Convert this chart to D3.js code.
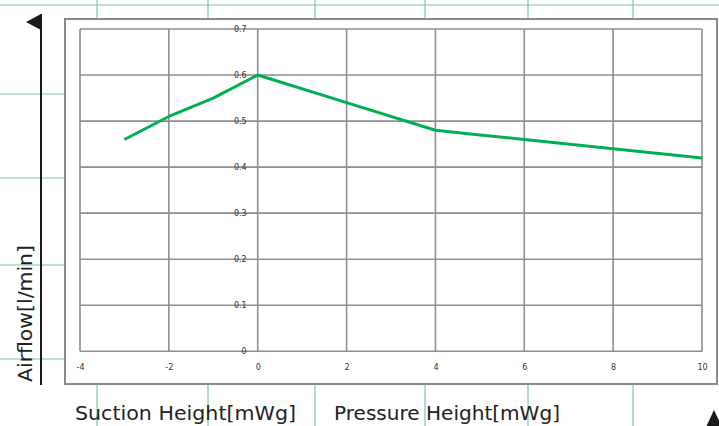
<!DOCTYPE html>
<html>
<head>
<meta charset="utf-8">
<script src="https://cdn.jsdelivr.net/npm/d3@7"></script>
<style>
  html, body { margin: 0; padding: 0; background: #fff; }
  svg { display: block; }
</style>
</head>
<body>
<svg id="chart" width="719" height="426"></svg>
<script>
// ---- data ----
const xValues = [-3, -2, -1, 0, 2, 4, 5, 6, 8, 10];
const airflow = [0.46, 0.51, 0.55, 0.60, 0.54, 0.48, 0.47, 0.46, 0.44, 0.42];
const xTicks = [-4, -2, 0, 2, 4, 6, 8, 10];
const yTicks = [0, 0.1, 0.2, 0.3, 0.4, 0.5, 0.6, 0.7];
const yTickLabels = ["0", "0.1", "0.2", "0.3", "0.4", "0.5", "0.6", "0.7"];
const yTitle = "Airflow[l/min]";
const suctionTitle = "Suction Height[mWg]";
const pressureTitle = "Pressure Height[mWg]";

const svg = d3.select("#chart");
const W = 719, H = 426;

// background page grid (green)
const pageGreen = "#86c4a6";
const bg = svg.append("g");
bg.append("line").attr("x1", 0).attr("x2", W).attr("y1", 5).attr("y2", 5)
  .attr("stroke", pageGreen).attr("stroke-width", 1.2);
[97, 208, 315, 425, 528, 633].forEach(x => {
  bg.append("line").attr("x1", x).attr("x2", x).attr("y1", 0).attr("y2", 20)
    .attr("stroke", pageGreen).attr("stroke-width", 1.2);
  bg.append("line").attr("x1", x).attr("x2", x).attr("y1", 384).attr("y2", H)
    .attr("stroke", pageGreen).attr("stroke-width", 1.2);
});
[94, 178, 265, 359].forEach(y => {
  bg.append("line").attr("x1", 0).attr("x2", 65).attr("y1", y).attr("y2", y)
    .attr("stroke", pageGreen).attr("stroke-width", 1.2);
});

// outer frame
svg.append("rect").attr("x", 65).attr("y", 19).attr("width", 652).attr("height", 365)
  .attr("fill", "#fff").attr("stroke", "#8a8a8a").attr("stroke-width", 2);

// scales
const x = d3.scaleLinear().domain([-4, 10]).range([80, 702]);
const y = d3.scaleLinear().domain([0, 0.7]).range([351.3, 29]);

const gridColor = "#8e8e8e";
const grid = svg.append("g");
grid.selectAll("line.h").data(yTicks).join("line").attr("class", "h")
  .attr("x1", x(-4)).attr("x2", x(10))
  .attr("y1", d => y(d)).attr("y2", d => y(d))
  .attr("stroke", gridColor).attr("stroke-width", 1.6);
grid.selectAll("line.v").data(xTicks).join("line").attr("class", "v")
  .attr("x1", d => x(d)).attr("x2", d => x(d))
  .attr("y1", y(0)).attr("y2", y(0.7))
  .attr("stroke", gridColor).attr("stroke-width", 1.6);

// y tick labels along x = 0 axis
const yAxis = d3.axisLeft(y).tickValues(yTicks)
  .tickFormat((d, i) => yTickLabels[i]).tickSize(0).tickPadding(4);
const ya = svg.append("g").attr("transform", `translate(${x(0) - 7},0)`).call(yAxis);
ya.select(".domain").remove();
ya.selectAll("text").attr("font-family", "DejaVu Sans, Verdana, sans-serif")
  .attr("font-size", 8).attr("fill", "#333");

// x tick labels
const xAxis = d3.axisBottom(x).tickValues(xTicks).tickSize(0).tickPadding(0)
  .tickFormat(d3.format("d"));
const xa = svg.append("g").attr("transform", `translate(0,${364})`).call(xAxis);
xa.select(".domain").remove();
xa.selectAll("text").attr("font-family", "DejaVu Sans, Verdana, sans-serif")
  .attr("font-size", 8).attr("fill", "#333").text(d => String(d));

// data line
const pts = xValues.map((v, i) => [v, airflow[i]]);
svg.append("path").datum(pts)
  .attr("fill", "none").attr("stroke", "#00b050").attr("stroke-width", 3)
  .attr("stroke-linejoin", "round")
  .attr("d", d3.line().x(d => x(d[0])).y(d => y(d[1])));

// left black axis with arrow
svg.append("line").attr("x1", 41).attr("x2", 41).attr("y1", 14).attr("y2", 385)
  .attr("stroke", "#1a1a1a").attr("stroke-width", 2);
svg.append("path").attr("d", "M26,22 L41,14 L41,30 Z").attr("fill", "#1a1a1a");
// bottom-right arrow head
svg.append("path").attr("d", "M714,410 L706,427 L722,427 Z").attr("fill", "#1a1a1a");

// titles
const titleFont = "'DejaVu Sans', 'Liberation Sans', sans-serif";
svg.append("text").text(yTitle)
  .attr("transform", "translate(32,382) rotate(-90)")
  .attr("font-family", titleFont).attr("font-size", 19).attr("fill", "#222")
  .attr("textLength", 137).attr("lengthAdjust", "spacingAndGlyphs");
svg.append("text").text(suctionTitle)
  .attr("x", 75).attr("y", 420)
  .attr("font-family", titleFont).attr("font-size", 19).attr("fill", "#222")
  .attr("textLength", 221).attr("lengthAdjust", "spacingAndGlyphs");
svg.append("text").text(pressureTitle)
  .attr("x", 334).attr("y", 420)
  .attr("font-family", titleFont).attr("font-size", 19).attr("fill", "#222")
  .attr("textLength", 226).attr("lengthAdjust", "spacingAndGlyphs");
</script>
</body>
</html>
